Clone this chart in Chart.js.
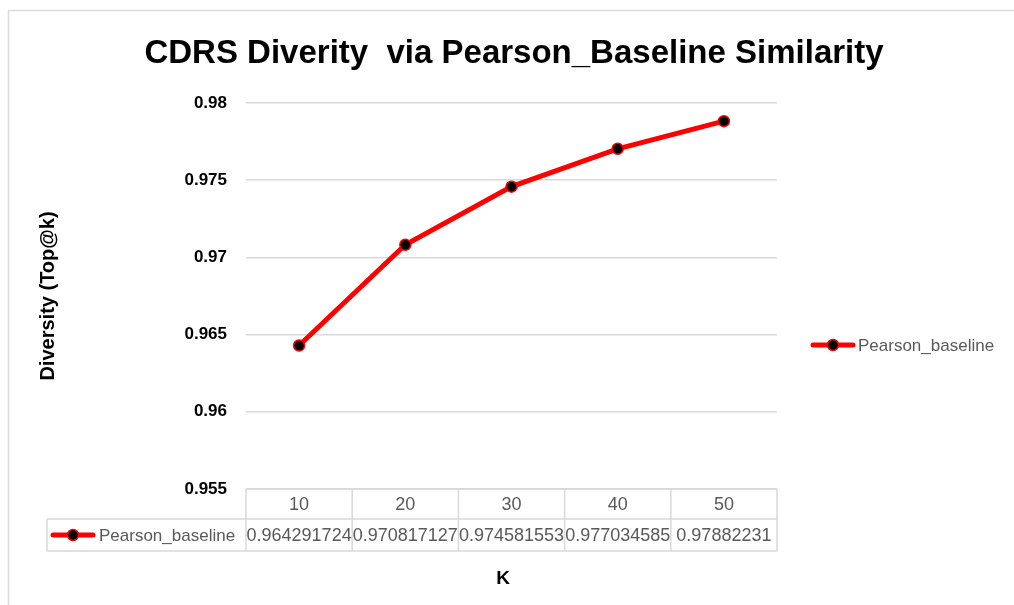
<!DOCTYPE html>
<html>
<head>
<meta charset="utf-8">
<script src="https://cdn.jsdelivr.net/npm/chart.js@4.4.1/dist/chart.umd.min.js"></script>
<style>
  html, body { margin: 0; padding: 0; background: #ffffff; }
  #wrap { width: 1014px; height: 605px; position: relative; }
</style>
</head>
<body>
<div id="wrap"><canvas id="diversityChart"></canvas></div>
<script>
const chartTitle = 'CDRS Diverity  via Pearson_Baseline Similarity';
const seriesName = 'Pearson_baseline';
const kValues = ['10', '20', '30', '40', '50'];
const diversity = [0.964291724, 0.970817127, 0.974581553, 0.977034585, 0.97882231];
const yTickLabels = ['0.955', '0.96', '0.965', '0.97', '0.975', '0.98'];

const FONT = '"Liberation Sans", Arial, sans-serif';
const GRID = '#d9d9d9';
const TEXT_GRAY = '#595959';

// line + dot marker like in excel legends
function drawMarker(ctx, x, y) {
    ctx.save();
    ctx.strokeStyle = '#ff0000';
    ctx.lineWidth = 5;
    ctx.lineCap = 'round';
    ctx.beginPath();
    ctx.moveTo(x - 20, y);
    ctx.lineTo(x + 20, y);
    ctx.stroke();
    ctx.beginPath();
    ctx.arc(x, y, 5.5, 0, Math.PI * 2);
    ctx.fillStyle = '#000000';
    ctx.fill();
    ctx.lineWidth = 1.5;
    ctx.stroke();
    ctx.restore();
}

const extrasPlugin = {
    id: 'extras',
    afterDraw(chart) {
        const ctx = chart.ctx;
        const area = chart.chartArea;
        const x = chart.scales.x;

        ctx.save();
        // outer chart border
        ctx.strokeStyle = '#dcdcdc';
        ctx.lineWidth = 1.5;
        ctx.beginPath();
        ctx.moveTo(8.5, 605);
        ctx.lineTo(8.5, 10.5);
        ctx.lineTo(1014, 10.5);
        ctx.stroke();

        // title
        ctx.fillStyle = '#000000';
        ctx.font = 'bold 33px ' + FONT;
        ctx.textAlign = 'center';
        ctx.textBaseline = 'middle';
        ctx.fillText(chartTitle, 514, 54);

        // legend on the right
        drawMarker(ctx, 833, 345);
        ctx.fillStyle = TEXT_GRAY;
        ctx.font = '17px ' + FONT;
        ctx.textAlign = 'left';
        ctx.fillText(seriesName, 858, 346);

        // data table
        const half = (x.getPixelForValue(1) - x.getPixelForValue(0)) / 2;
        const top = area.bottom;
        const mid = top + 30;
        const bot = top + 62;
        const left = 47;
        ctx.strokeStyle = GRID;
        ctx.lineWidth = 1.5;
        ctx.beginPath();
        ctx.moveTo(area.left, top); ctx.lineTo(area.right, top);
        ctx.moveTo(left, mid); ctx.lineTo(area.right, mid);
        ctx.moveTo(left, bot); ctx.lineTo(area.right, bot);
        ctx.moveTo(left, mid); ctx.lineTo(left, bot);
        ctx.moveTo(area.left, top); ctx.lineTo(area.left, bot);
        kValues.forEach((k, i) => {
            const r = x.getPixelForValue(i) + half;
            ctx.moveTo(r, top); ctx.lineTo(r, bot);
        });
        ctx.stroke();

        ctx.fillStyle = TEXT_GRAY;
        ctx.font = '18px ' + FONT;
        ctx.textAlign = 'center';
        kValues.forEach((k, i) => {
            const cx = x.getPixelForValue(i);
            ctx.fillText(k, cx, (top + mid) / 2 + 1);
            ctx.fillText(String(diversity[i]), cx, (mid + bot) / 2 + 1);
        });
        drawMarker(ctx, 73, (mid + bot) / 2);
        ctx.font = '17px ' + FONT;
        ctx.textAlign = 'left';
        ctx.fillText(seriesName, 99, (mid + bot) / 2 + 1);

        // x axis title
        ctx.fillStyle = '#000000';
        ctx.font = 'bold 19px ' + FONT;
        ctx.textAlign = 'center';
        ctx.fillText('K', 503, 579);
        ctx.restore();
    }
};

new Chart(document.getElementById('diversityChart'), {
    type: 'line',
    data: {
        labels: kValues,
        datasets: [{
            label: seriesName,
            data: diversity,
            borderColor: '#ff0000',
            borderWidth: 5,
            pointRadius: 5.5,
            pointHoverRadius: 5.5,
            pointBackgroundColor: '#000000',
            pointBorderColor: '#ff0000',
            pointBorderWidth: 1.5,
            tension: 0,
            fill: false
        }]
    },
    options: {
        responsive: true,
        maintainAspectRatio: false,
        animation: false,
        layout: {
            padding: { top: 103, right: 237, bottom: 116, left: 0 }
        },
        plugins: {
            legend: { display: false },
            title: { display: false },
            tooltip: { enabled: false }
        },
        scales: {
            x: {
                type: 'category',
                display: false,
                offset: true
            },
            y: {
                min: 0.955,
                max: 0.98,
                afterFit: function(scale) {
                    scale.width = 246;
                },
                border: { display: false },
                grid: {
                    color: GRID,
                    lineWidth: 1.5,
                    drawTicks: false
                },
                ticks: {
                    stepSize: 0.005,
                    padding: 19,
                    color: '#000000',
                    font: { family: FONT, size: 17, weight: 'bold' },
                    callback: function(value) {
                        const lbl = yTickLabels.find(l => Math.abs(parseFloat(l) - value) < 1e-6);
                        return lbl || '';
                    }
                },
                title: {
                    display: true,
                    text: 'Diversity (Top@k)',
                    color: '#000000',
                    font: { family: FONT, size: 20, weight: 'bold' },
                    padding: { top: 36, bottom: 0 }
                }
            }
        }
    },
    plugins: [extrasPlugin]
});
</script>
</body>
</html>
